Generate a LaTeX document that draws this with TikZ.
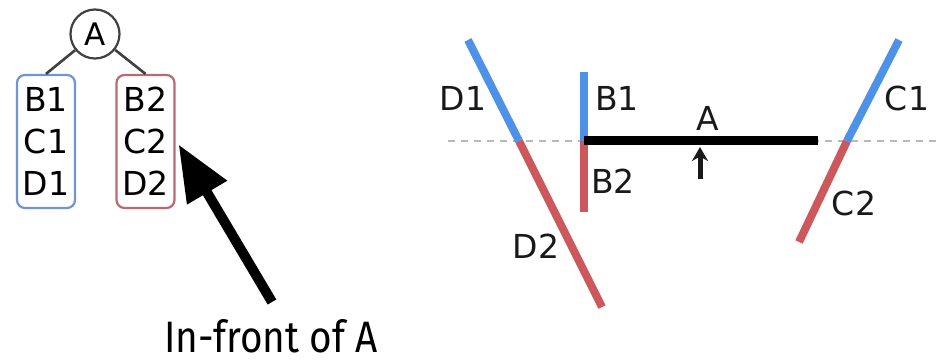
\documentclass[tikz,border=0pt]{standalone}
\usepackage{fontspec}
\setmainfont{DejaVu Sans}
\newfontfamily\capfont{Fira Sans}
\usetikzlibrary{arrows.meta}
\definecolor{lblue}{RGB}{78,145,232}
\definecolor{lred}{RGB}{205,88,92}
\definecolor{bblue}{RGB}{112,148,212}
\definecolor{bred}{RGB}{184,106,112}
\definecolor{dgray}{RGB}{185,185,180}
\tikzset{
  lab/.style={font=\fontsize{33}{40}\selectfont, inner sep=0pt, text=black!90},
  seg/.style={line width=8pt},
  grp/.style={draw, line width=2.2pt, rounded corners=8pt, minimum width=58pt, minimum height=133pt, inner sep=0pt, align=center, font=\fontsize{33}{42}\selectfont},
}
\begin{document}
\begin{tikzpicture}[x=1pt,y=-1pt]
\useasboundingbox (0,0) rectangle (940,363);
% tree
\node[circle, draw=black!75, line width=2.2pt, minimum size=49pt, inner sep=0pt, font=\fontsize{31}{34}\selectfont] (tA) at (95,34) {A};
\node[grp, draw=bblue] (bl) at (46,141.5) {B1\\C1\\D1};
\node[grp, draw=bred] (br) at (145.5,141.5) {B2\\C2\\D2};
\draw[line width=2.6pt, black!75] (tA) -- (bl.north);
\draw[line width=2.6pt, black!75] (tA) -- (br.north);
% caption arrow
\node[font=\capfont\fontsize{44}{50}\selectfont, inner sep=0pt, xscale=0.88] (cap) at (271,336) {In-front of A};
\coordinate (tail) at (272,302);
\draw[line width=10pt, -{Triangle[length=56pt,width=44pt]}] (tail) -- ([shift={(3,3)}]br.east);
% right part
\coordinate (hl) at (448,141);
\coordinate (hr) at (940,141);
\draw[dgray, line width=1.6pt, dash pattern=on 7pt off 6pt] (hl) -- (hr);
\coordinate (Dt) at (468,40);
\coordinate (Dm) at (519,141);
\coordinate (Db) at (602,307);
\draw[seg, lred] (Dm) -- (Db);
\draw[seg, lblue] (Dt) -- (Dm);
\coordinate (Bt) at (584,72);
\coordinate (Bm) at (584,141);
\coordinate (Bb) at (584,212);
\draw[seg, lred] (Bm) -- (Bb);
\draw[seg, lblue] (Bt) -- (Bm);
\coordinate (Ae) at (818,141);
\draw[line width=9pt, black] (Bm) -- (Ae);
\coordinate (nB) at (700,179);
\coordinate (nT) at (700,147);
\draw[line width=5pt, black!90, -{Stealth[length=14pt,width=16pt]}] (nB) -- (nT);
\coordinate (Ct) at (899,40);
\coordinate (Cm) at (847,141);
\coordinate (Cb) at (799,242);
\draw[seg, lred] (Cm) -- (Cb);
\draw[seg, lblue] (Ct) -- (Cm);
% labels
\node[lab] (lD1) at (463,98) {D1};
\node[lab] (lB1) at (617,98) {B1};
\node[lab] (lA) at (708,118) {A};
\node[lab] (lB2) at (613,181) {B2};
\node[lab] (lD2) at (536,246) {D2};
\node[lab] (lC1) at (907,98) {C1};
\node[lab] (lC2) at (854,203) {C2};
\end{tikzpicture}
\end{document}
